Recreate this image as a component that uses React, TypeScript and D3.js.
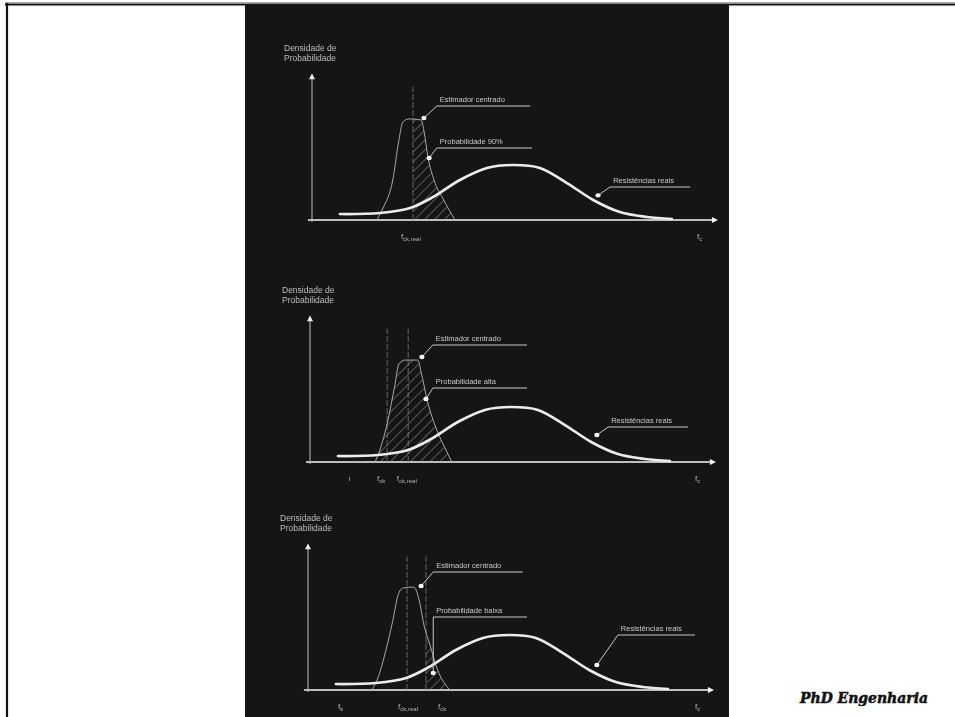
import React from 'react'
import { scaleLinear, line, area, curveCatmullRom, curveMonotoneX } from 'd3'

// resistências reais: the same bell curve is drawn in the three panels
const resX = [6.9, 16.8, 24.3, 30, 36.6, 43.3, 49.8, 56.4, 63.1, 69.6, 76.2, 82.9, 89.1]
const resY = [4.1, 4.8, 8.3, 15.9, 27.6, 35.9, 37.9, 35.9, 25.5, 13.8, 5.5, 2.1, 0.7]

// estimador centrado, one per panel
const est1X = [16, 17.6, 20, 21.5, 22.5, 24, 27, 27.8, 28.7, 30.2, 32.6, 35.4]
const est1Y = [0, 8.3, 27.6, 55, 67.6, 69.7, 69, 60, 43.4, 27.6, 13.8, 0]
const est2X = [16.1, 17.3, 19.3, 21, 22, 23.5, 26.7, 27.5, 29, 31.4, 33.4, 35.1]
const est2Y = [0, 8.3, 29, 53, 67.6, 70.3, 70.3, 62, 42.8, 22, 9.7, 0]
const est3X = [15.8, 17.3, 19.3, 21, 22.3, 23.5, 26.2, 27.5, 28.7, 30.2, 31.9, 35.1]
const est3Y = [0, 8.3, 27.6, 48, 65.5, 70.3, 71, 62, 44.8, 31, 15.2, 0]

// vertical guide lines (fck / fck,real) and where the hatch starts
const guides1 = [25]
const guides2 = [19.1, 24.3]
const guides3 = [24.5, 29.2]
const hatchFrom = [25, 0, 29.2]

// callouts: label, dot on the curve, underline start / end / height
const notes1 = [
  { label: 'Estimador centrado', dx: 27.7, dy: 70.3, x0: 30.9, x1: 54, y: 78.6 },
  { label: 'Probabilidade 90%', dx: 29, dy: 42.8, x0: 30.9, x1: 54.5, y: 49.7 },
  { label: 'Resistências reais', dx: 70.8, dy: 17, x0: 73.8, x1: 93.6, y: 22.8 },
]
const notes2 = [
  { label: 'Estimador centrado', dx: 27.7, dy: 72.4, x0: 30.4, x1: 53.7, y: 80.7 },
  { label: 'Probabilidade alta', dx: 28.7, dy: 43.4, x0: 30.4, x1: 53.7, y: 51 },
  { label: 'Resistências reais', dx: 71, dy: 18.6, x0: 73.8, x1: 93.6, y: 24.1 },
]
const notes3 = [
  { label: 'Estimador centrado', dx: 28, dy: 71.7, x0: 31, x1: 53.2, y: 81.4 },
  { label: 'Probabilidade baixa', dx: 31, dy: 11.7, x0: 31, x1: 54.2, y: 50.3 },
  { label: 'Resistências reais', dx: 71.5, dy: 17.2, x0: 76.7, x1: 95.8, y: 37.9 },
]

// labels under the abscissa
const ticks1 = [{ t: 'f', s: 'ck,real', x: 22 }, { t: 'f', s: 'c', x: 95.3 }]
const ticks2 = [{ t: 'f', s: 'ck', x: 16.6 }, { t: 'f', s: 'ck,real', x: 21.5 }, { t: 'f', s: 'c', x: 95.3 }, { t: 'ι', s: '', x: 9.5 }]
const ticks3 = [{ t: 'f', s: 'k', x: 7.4 }, { t: 'f', s: 'ck,real', x: 22.3 }, { t: 'f', s: 'ck', x: 32.2 }, { t: 'f', s: 'c', x: 95.8 }]

const panels = [
  { ox: 312, oy: 220, estX: est1X, estY: est1Y, guides: guides1, hatch: hatchFrom[0], notes: notes1, ticks: ticks1 },
  { ox: 310, oy: 462, estX: est2X, estY: est2Y, guides: guides2, hatch: hatchFrom[1], notes: notes2, ticks: ticks2 },
  { ox: 308, oy: 690, estX: est3X, estY: est3Y, guides: guides3, hatch: hatchFrom[2], notes: notes3, ticks: ticks3 },
]

const font = 'Liberation Sans, Arial, sans-serif'

const Panel = ({ p, i }) => {
  const x = scaleLinear().domain([0, 100]).range([p.ox, p.ox + 404])
  const y = scaleLinear().domain([0, 100]).range([p.oy, p.oy - 145])

  const res = resX.map((v, k) => [v, resY[k]])
  const est = p.estX.map((v, k) => [v, p.estY[k]])
  const resLine = line().x(d => x(d[0])).y(d => y(d[1])).curve(curveCatmullRom.alpha(0.5))
  const estLine = line().x(d => x(d[0])).y(d => y(d[1])).curve(curveMonotoneX)
  const estArea = area().x(d => x(d[0])).y0(y(0)).y1(d => y(d[1])).curve(curveMonotoneX)

  return (
    <g>
      <defs>
        <clipPath id={`clip${i}`}>
          <rect x={x(p.hatch)} y={y(100)} width={x(100) - x(p.hatch)} height={y(0) - y(100)} />
        </clipPath>
      </defs>

      {/* axis title */}
      <text x={p.ox - 28} y={y(100) - 24} fontSize={8.5} fill='#bdbdbd' fontFamily={font}>Densidade de</text>
      <text x={p.ox - 28} y={y(100) - 14} fontSize={8.5} fill='#bdbdbd' fontFamily={font}>Probabilidade</text>

      {/* axes */}
      <line x1={p.ox} x2={p.ox} y1={y(0) + 2} y2={y(98)} stroke='#9a9a9a' strokeWidth={1.3} />
      <path d={`M${p.ox - 3},${y(97)} L${p.ox},${y(101)} L${p.ox + 3},${y(97)} Z`} fill='#eee' />
      <line x1={x(-1)} x2={x(99)} y1={y(0)} y2={y(0)} stroke='#bdbdbd' strokeWidth={1.8} />
      <path d={`M${x(99)},${y(0) - 3} L${x(100.5)},${y(0)} L${x(99)},${y(0) + 3} Z`} fill='#f2f2f2' />

      {/* guide lines */}
      {p.guides.map(g => (
        <line key={g} x1={x(g)} x2={x(g)} y1={y(0)} y2={y(92)} stroke='#7a7a7a' strokeWidth={0.8} strokeDasharray='6,2' />
      ))}

      {/* hatched probability */}
      <path d={estArea(est)} fill='url(#hatch)' clipPath={`url(#clip${i})`} />

      {/* estimator and real strengths */}
      <path d={estLine(est)} fill='none' stroke='#a8a8a8' strokeWidth={1} />
      <path d={resLine(res)} fill='none' stroke='#ececec' strokeWidth={2.6} strokeLinecap='round' />

      {/* callouts */}
      {p.notes.map(n => (
        <g key={n.label}>
          <line x1={x(n.x0)} x2={x(n.x1)} y1={y(n.y)} y2={y(n.y)} stroke='#c8c8c8' strokeWidth={1.1} />
          <path d={`M${x(n.x0)},${y(n.y)} L${x(n.dx)},${y(n.dy)}`} stroke='#c8c8c8' strokeWidth={1} fill='none' />
          <ellipse cx={x(n.dx)} cy={y(n.dy)} rx={2.6} ry={2.2} fill='#fafafa' />
          <text x={x(n.x0) + 3} y={y(n.y) - 4} fontSize={7.5} fill='#c8c8c8' fontFamily={font}>{n.label}</text>
        </g>
      ))}

      {/* abscissa labels */}
      {p.ticks.map(t => (
        <text key={t.s + t.x} x={x(t.x)} y={y(0) + 19} fontSize={8} fill='#b4b4b4' fontFamily={font}>
          {t.t}<tspan fontSize={6} dy={2}>{t.s}</tspan>
        </text>
      ))}
    </g>
  )
}

export default function App() {
  return (
    <svg width={955} height={717} style={{ position: 'absolute', left: 0, top: 0, background: '#fff' }}>
      <defs>
        <pattern id='hatch' patternUnits='userSpaceOnUse' width={7} height={7} patternTransform='rotate(45)'>
          <line x1={0} y1={0} x2={0} y2={7} stroke='#9c9c9c' strokeWidth={1} />
        </pattern>
        <filter id='soft'>
          <feGaussianBlur stdDeviation={0.55} />
        </filter>
      </defs>

      {/* page border */}
      <line x1={5} x2={955} y1={2.5} y2={2.5} stroke='#aaa' strokeWidth={1} />
      <line x1={5} x2={955} y1={4.5} y2={4.5} stroke='#111' strokeWidth={2.2} />
      <line x1={7} x2={7} y1={3} y2={717} stroke='#111' strokeWidth={2.2} />

      {/* photo of the drawing */}
      <rect x={245} y={4} width={484} height={713} fill='#151515' />
      <g filter='url(#soft)'>
        {panels.map((p, i) => <Panel key={i} p={p} i={i} />)}
      </g>

      <text x={800} y={703} fontSize={15} fontWeight='bold' fontStyle='italic' fontFamily='DejaVu Serif Condensed, DejaVu Serif, serif'
        textLength={128} lengthAdjust='spacingAndGlyphs' fill='#111' stroke='#111' strokeWidth={0.5}>PhD Engenharia</text>
    </svg>
  )
}
